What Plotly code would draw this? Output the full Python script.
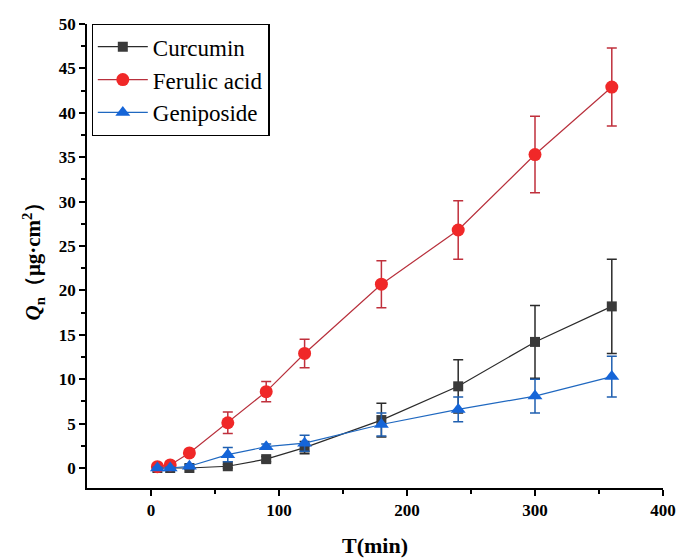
import plotly.graph_objects as go

t = [5, 15, 30, 60, 90, 120, 180, 240, 300, 360]

curcumin = [0.0, 0.0, 0.0, 0.2, 1.0, 2.3, 5.4, 9.2, 14.2, 18.2]
curcumin_err = [0.1, 0.1, 0.1, 0.2, 0.3, 0.7, 1.9, 3.0, 4.1, 5.3]

ferulic = [0.15, 0.35, 1.7, 5.1, 8.6, 12.9, 20.7, 26.8, 35.3, 42.9]
ferulic_err = [0.2, 0.3, 0.3, 1.2, 1.15, 1.6, 2.65, 3.3, 4.3, 4.4]

geniposide = [0.0, 0.0, 0.2, 1.5, 2.4, 2.8, 4.9, 6.6, 8.1, 10.3]
geniposide_err = [0.1, 0.1, 0.2, 0.8, 0.3, 0.9, 1.3, 1.4, 1.9, 2.3]

serif = "Times New Roman, Liberation Serif, serif"

fig = go.Figure()

fig.add_trace(go.Scatter(
    x=t, y=curcumin, name="Curcumin", mode="lines+markers",
    line=dict(color="#2b2b2b", width=1.2),
    marker=dict(symbol="square", size=10, color="#3a3a3a"),
    error_y=dict(type="data", array=curcumin_err, color="#2b2b2b", thickness=1.5, width=5),
))
fig.add_trace(go.Scatter(
    x=t, y=ferulic, name="Ferulic acid", mode="lines+markers",
    line=dict(color="#b8303c", width=1.2),
    marker=dict(symbol="circle", size=13, color="#f02828"),
    error_y=dict(type="data", array=ferulic_err, color="#c0303c", thickness=1.5, width=5),
))
fig.add_trace(go.Scatter(
    x=t, y=geniposide, name="Geniposide", mode="lines+markers",
    line=dict(color="#1f68c0", width=1.2),
    marker=dict(symbol="triangle-up", size=13, color="#1565d8"),
    error_y=dict(type="data", array=geniposide_err, color="#1f5fb0", thickness=1.5, width=5),
))

fig.update_layout(
    width=679, height=558,
    margin=dict(l=87, r=16, t=24, b=70),
    paper_bgcolor="white", plot_bgcolor="white",
    font=dict(family=serif, color="black"),
    showlegend=True,
    legend=dict(
        x=0.008, y=1.0, xanchor="left", yanchor="top",
        bordercolor="black", borderwidth=1.2, bgcolor="white",
        font=dict(family=serif, size=23, color="black"),
        itemwidth=50, tracegroupgap=0,
    ),
)

fig.update_xaxes(
    range=[-50, 400], tickvals=[0, 100, 200, 300, 400],
    automargin=False,
    showline=True, linecolor="black", linewidth=1.5,
    ticks="outside", ticklen=6, tickwidth=1.5, tickcolor="black",
    minor=dict(tickvals=[50, 150, 250, 350], ticks="outside", ticklen=4, tickwidth=1.5, tickcolor="black"),
    showgrid=False, zeroline=False,
    tickfont=dict(family=serif, size=17, weight="bold"),
    title=dict(text="T(min)", font=dict(family=serif, size=22, weight="bold"), standoff=20),
)
fig.update_yaxes(
    range=[-2.25, 50.0], tickvals=[0, 5, 10, 15, 20, 25, 30, 35, 40, 45, 50],
    automargin=False,
    showline=True, linecolor="black", linewidth=1.5,
    ticks="outside", ticklen=6, tickwidth=1.5, tickcolor="black",
    minor=dict(tickvals=[2.5, 7.5, 12.5, 17.5, 22.5, 27.5, 32.5, 37.5, 42.5, 47.5],
               ticks="outside", ticklen=4, tickwidth=1.5, tickcolor="black"),
    showgrid=False, zeroline=False,
    tickfont=dict(family=serif, size=17, weight="bold"),
    title=dict(text="<i>Q</i><sub>n</sub>（μg·cm<sup>2</sup>）",
               font=dict(family=serif, size=21, weight="bold"), standoff=12),
)

fig.write_html("out.html")
